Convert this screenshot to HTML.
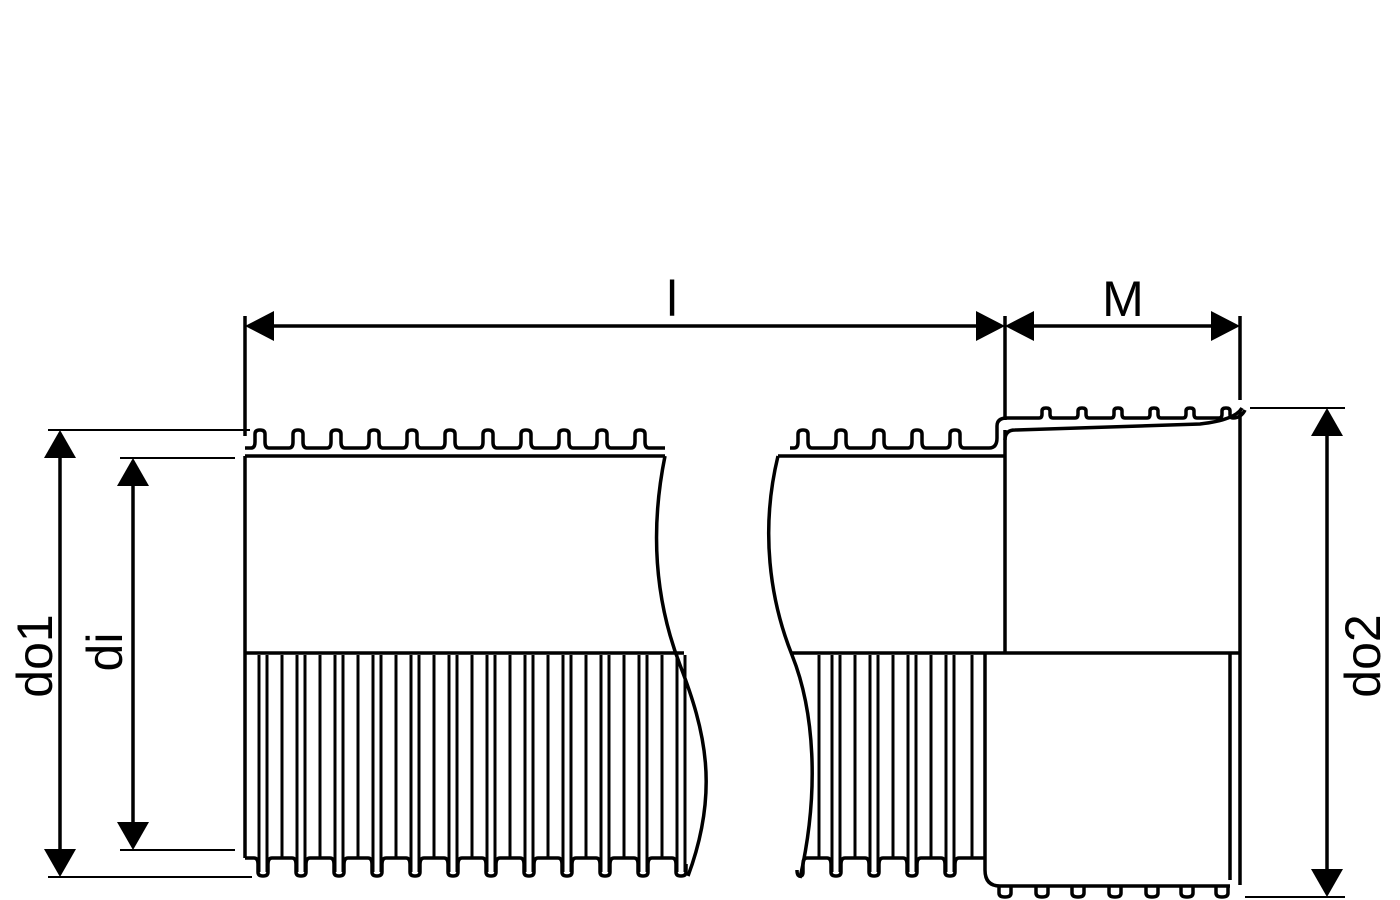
<!DOCTYPE html>
<html><head><meta charset="utf-8"><style>html,body{margin:0;padding:0;background:#fff}svg{display:block}</style></head>
<body>
<svg width="1400" height="900" viewBox="0 0 1400 900" xmlns="http://www.w3.org/2000/svg" font-family="Liberation Sans, sans-serif">
<g stroke="#000" stroke-width="3.5" fill="none" stroke-linejoin="round">
<line x1="245" y1="316" x2="245" y2="436"/>
<line x1="1005" y1="316" x2="1005" y2="420"/>
<line x1="1240" y1="316" x2="1240" y2="400"/>
<line x1="272" y1="326" x2="978" y2="326"/>
<line x1="1032" y1="326" x2="1213" y2="326"/>
<line x1="48" y1="430" x2="250" y2="430" stroke-width="2"/>
<line x1="48" y1="877" x2="252" y2="877" stroke-width="2"/>
<line x1="120" y1="458" x2="235" y2="458" stroke-width="2"/>
<line x1="120" y1="850" x2="235" y2="850" stroke-width="2"/>
<line x1="60" y1="458" x2="60" y2="849"/>
<line x1="133" y1="486" x2="133" y2="822"/>
<line x1="1250" y1="408" x2="1345" y2="408" stroke-width="2"/>
<line x1="1245" y1="897" x2="1345" y2="897" stroke-width="2"/>
<line x1="1327" y1="436" x2="1327" y2="869"/>
<line x1="245" y1="456" x2="665" y2="456"/>
<line x1="245" y1="456" x2="245" y2="858"/>
<line x1="245" y1="653" x2="684" y2="653"/>
<line x1="778" y1="456" x2="1005" y2="456"/>
<line x1="792" y1="653" x2="1240" y2="653"/>
<line x1="1005" y1="430" x2="1005" y2="653"/>
<line x1="1240" y1="410" x2="1240" y2="885"/>
<line x1="1230" y1="653" x2="1230" y2="880"/>
<path d="M665 456 C650 530,655 600,680 665 S720 790,688 876"/>
<path d="M778 456 C760 530,770 600,792 655 S820 790,800 878"/>
<path d="M1005 440 Q1005 430,1015 430 L1200 424 Q1235 420,1242 408"/>
<path d="M985 653 L985 870 Q985 886,1000 886 L1230 886"/>
<!-- top corrugation left -->
<path d="M245 448 h6 q4 0 4 -6 v-8 q0 -4 5 -4 q5 0 5 4 v8 q0 6 4 6
h20 q4 0 4 -6 v-8 q0 -4 5 -4 q5 0 5 4 v8 q0 6 4 6
h20 q4 0 4 -6 v-8 q0 -4 5 -4 q5 0 5 4 v8 q0 6 4 6
h20 q4 0 4 -6 v-8 q0 -4 5 -4 q5 0 5 4 v8 q0 6 4 6
h20 q4 0 4 -6 v-8 q0 -4 5 -4 q5 0 5 4 v8 q0 6 4 6
h20 q4 0 4 -6 v-8 q0 -4 5 -4 q5 0 5 4 v8 q0 6 4 6
h20 q4 0 4 -6 v-8 q0 -4 5 -4 q5 0 5 4 v8 q0 6 4 6
h20 q4 0 4 -6 v-8 q0 -4 5 -4 q5 0 5 4 v8 q0 6 4 6
h20 q4 0 4 -6 v-8 q0 -4 5 -4 q5 0 5 4 v8 q0 6 4 6
h20 q4 0 4 -6 v-8 q0 -4 5 -4 q5 0 5 4 v8 q0 6 4 6
h20 q4 0 4 -6 v-8 q0 -4 5 -4 q5 0 5 4 v8 q0 6 4 6 h16"/>
<!-- top corrugation right -->
<path d="M790 448 h4 q4 0 4 -6 v-8 q0 -4 5 -4 q5 0 5 4 v8 q0 6 4 6
h20 q4 0 4 -6 v-8 q0 -4 5 -4 q5 0 5 4 v8 q0 6 4 6
h20 q4 0 4 -6 v-8 q0 -4 5 -4 q5 0 5 4 v8 q0 6 4 6
h20 q4 0 4 -6 v-8 q0 -4 5 -4 q5 0 5 4 v8 q0 6 4 6
h20 q4 0 4 -6 v-8 q0 -4 5 -4 q5 0 5 4 v8 q0 6 4 6 h25
q8 0 8 -10 v-12 q0 -8 10 -8 h10
h22 q3 0 3 -4 v-3 q0 -3 4 -3 q4 0 4 3 v3 q0 4 3 4
h22 q3 0 3 -4 v-3 q0 -3 4 -3 q4 0 4 3 v3 q0 4 3 4
h22 q3 0 3 -4 v-3 q0 -3 4 -3 q4 0 4 3 v3 q0 4 3 4
h22 q3 0 3 -4 v-3 q0 -3 4 -3 q4 0 4 3 v3 q0 4 3 4
h22 q3 0 3 -4 v-3 q0 -3 4 -3 q4 0 4 3 v3 q0 4 3 4
h22 q3 0 3 -4 v-3 q0 -3 4 -3 q4 0 4 3 v3 q0 4 3 4 q8 0 12 -8"/>
<!-- bottom corrugation left -->
<path d="M245 858 h9 q4 0 4 6 v8 q0 4 5 4 q5 0 5 -4 v-8 q0 -6 4 -6
h20 q4 0 4 6 v8 q0 4 5 4 q5 0 5 -4 v-8 q0 -6 4 -6
h20 q4 0 4 6 v8 q0 4 5 4 q5 0 5 -4 v-8 q0 -6 4 -6
h20 q4 0 4 6 v8 q0 4 5 4 q5 0 5 -4 v-8 q0 -6 4 -6
h20 q4 0 4 6 v8 q0 4 5 4 q5 0 5 -4 v-8 q0 -6 4 -6
h20 q4 0 4 6 v8 q0 4 5 4 q5 0 5 -4 v-8 q0 -6 4 -6
h20 q4 0 4 6 v8 q0 4 5 4 q5 0 5 -4 v-8 q0 -6 4 -6
h20 q4 0 4 6 v8 q0 4 5 4 q5 0 5 -4 v-8 q0 -6 4 -6
h20 q4 0 4 6 v8 q0 4 5 4 q5 0 5 -4 v-8 q0 -6 4 -6
h20 q4 0 4 6 v8 q0 4 5 4 q5 0 5 -4 v-8 q0 -6 4 -6
h20 q4 0 4 6 v8 q0 4 5 4 q5 0 5 -4 v-8 q0 -6 4 -6
h20 q4 0 4 6 v8 q0 4 5 4 q5 0 5 -4 v-8"/>
<!-- bottom corrugation right -->
<path d="M797 870 q0 6 3 6 q3 0 3 -4 v-8 q0 -6 4 -6
h20 q4 0 4 6 v8 q0 4 5 4 q5 0 5 -4 v-8 q0 -6 4 -6
h20 q4 0 4 6 v8 q0 4 5 4 q5 0 5 -4 v-8 q0 -6 4 -6
h20 q4 0 4 6 v8 q0 4 5 4 q5 0 5 -4 v-8 q0 -6 4 -6
h20 q4 0 4 6 v8 q0 4 5 4 q5 0 5 -4 v-8 q0 -6 4 -6 h26"/>
<!-- dips on bottom right -->
<path d="M999 886 v7 q0 4 6 4 q6 0 6 -4 v-7 M1036 886 v7 q0 4 6 4 q6 0 6 -4 v-7 M1072 886 v7 q0 4 6 4 q6 0 6 -4 v-7 M1109 886 v7 q0 4 6 4 q6 0 6 -4 v-7 M1146 886 v7 q0 4 6 4 q6 0 6 -4 v-7 M1181 886 v7 q0 4 6 4 q6 0 6 -4 v-7 M1216 886 v7 q0 4 6 4 q6 0 6 -4 v-7"/>
</g>
<!-- fins -->
<g stroke="#000" stroke-width="3" fill="none">
<path d="M259 655V872M267 655V872M282 655V858
M297 655V872M305 655V872M320 655V858
M335 655V872M343 655V872M358 655V858
M373 655V872M381 655V872M396 655V858
M411 655V872M419 655V872M434 655V858
M449 655V872M457 655V872M472 655V858
M487 655V872M495 655V872M510 655V858
M525 655V872M533 655V872M548 655V858
M563 655V872M571 655V872M586 655V858
M601 655V872M609 655V872M624 655V858
M639 655V872M647 655V872M662 655V858
M677 655V872M685 655V872"/>
<path d="M819 655V858M832 655V872M840 655V872M855 655V858M870 655V872M878 655V872M893 655V858M908 655V872M916 655V872M931 655V858M946 655V872M954 655V872M972 655V858"/>
</g>
<g fill="#000">
<polygon points="245,326 274,311 274,341"/>
<polygon points="1005,326 976,311 976,341"/>
<polygon points="1005,326 1034,311 1034,341"/>
<polygon points="1240,326 1211,311 1211,341"/>
<polygon points="60,430 44,458 76,458"/>
<polygon points="60,877 44,849 76,849"/>
<polygon points="133,458 117,486 149,486"/>
<polygon points="133,850 117,822 149,822"/>
<polygon points="1327,408 1311,436 1343,436"/>
<polygon points="1327,897 1311,869 1343,869"/>
</g>
<g font-size="50" fill="#000" text-anchor="middle">
<text x="672" y="316">l</text>
<text x="1123" y="316">M</text>
<text transform="translate(52,656) rotate(-90)">do1</text>
<text transform="translate(122,652) rotate(-90)">di</text>
<text transform="translate(1380,656) rotate(-90)">do2</text>
</g>
</svg>
</body></html>
